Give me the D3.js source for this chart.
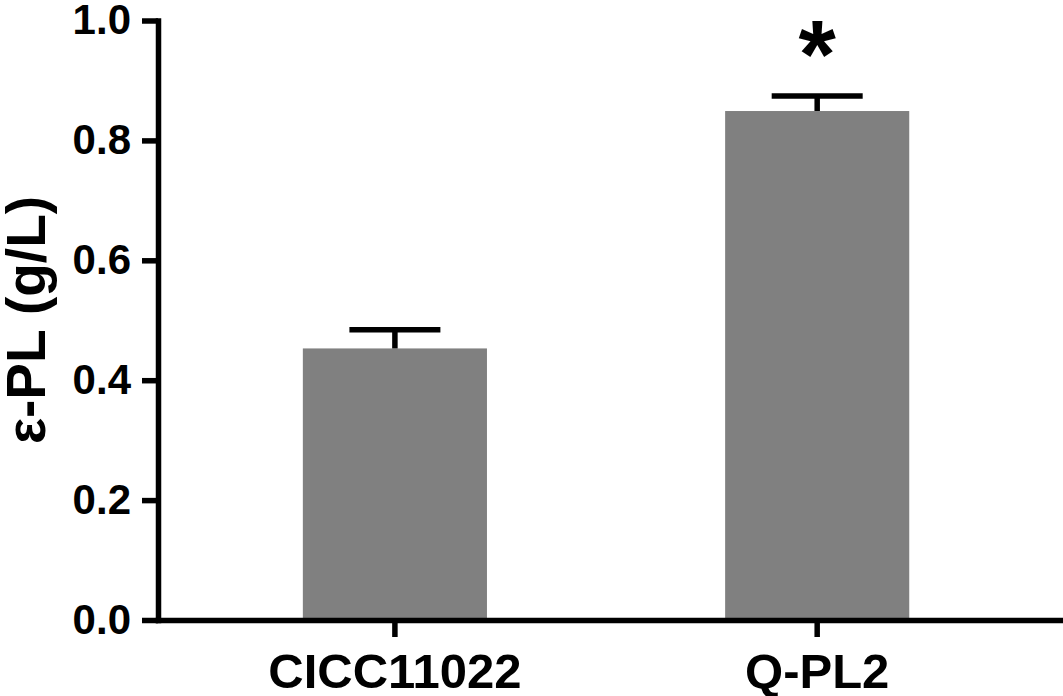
<!DOCTYPE html>
<html>
<head>
<meta charset="utf-8">
<script src="https://cdn.jsdelivr.net/npm/d3@7"></script>
<style>
  html, body { margin: 0; padding: 0; background: #fff; }
  svg { display: block; font-family: "Liberation Sans", Arial, sans-serif; }
</style>
</head>
<body>
<svg id="chart" width="1063" height="696"></svg>
<script>
// dati
const strains = ["CICC11022", "Q-PL2"];
const meanValues = [0.453, 0.849];
const sdValues = [0.031, 0.025];
const sigMarks = ["", "*"];
const yTicks = [0.0, 0.2, 0.4, 0.6, 0.8, 1.0];

const svg = d3.select("#chart");
const axisW = 5.5;

const x = d3.scaleBand()
  .domain(strains)
  .range([158, 1060])
  .paddingInner(0.564)
  .paddingOuter(0.35)
  .align(0.49);

const y = d3.scaleLinear()
  .domain([0, 1])
  .range([620, 20.5]);

const rows = strains.map((s, i) => ({ name: s, mean: meanValues[i], sd: sdValues[i], mark: sigMarks[i] }));

//barre
svg.selectAll("rect.bar")
  .data(rows)
  .enter().append("rect")
  .attr("class", "bar")
  .attr("x", d => x(d.name))
  .attr("width", x.bandwidth())
  .attr("y", d => y(d.mean))
  .attr("height", d => y(0) - y(d.mean))
  .attr("fill", "#808080");

//barre di errore (solo metà superiore)
const err = svg.selectAll("g.err")
  .data(rows)
  .enter().append("g")
  .attr("class", "err")
  .attr("transform", d => `translate(${x(d.name) + x.bandwidth() / 2},0)`);

err.append("line")
  .attr("x1", 0).attr("x2", 0)
  .attr("y1", d => y(d.mean))
  .attr("y2", d => y(d.mean + d.sd))
  .attr("stroke", "#000")
  .attr("stroke-width", axisW);

err.append("line")
  .attr("x1", -45.5).attr("x2", 45.5)
  .attr("y1", d => y(d.mean + d.sd))
  .attr("y2", d => y(d.mean + d.sd))
  .attr("stroke", "#000")
  .attr("stroke-width", axisW);

//asterisco di significatività
err.filter(d => d.mark)
  .append("text")
  .attr("text-anchor", "middle")
  .attr("y", d => y(d.mean + d.sd) - 9)
  .attr("font-size", "96px")
  .attr("font-weight", "bold")
  .text(d => d.mark);

//asse y
const yAxis = svg.append("g")
  .attr("transform", `translate(${x.range()[0]},0)`)
  .call(d3.axisLeft(y).tickValues(yTicks).tickFormat(d3.format(".1f")).tickSize(16).tickPadding(11).tickSizeOuter(0));

//asse x
const xAxis = svg.append("g")
  .attr("transform", `translate(0,${y(0)})`)
  .call(d3.axisBottom(x).tickSize(17).tickPadding(16).tickSizeOuter(0));

[yAxis, xAxis].forEach(g => {
  g.select(".domain").attr("stroke", "#000").attr("stroke-width", axisW).attr("stroke-linecap", "square");
  g.selectAll(".tick line").attr("stroke", "#000").attr("stroke-width", axisW);
  g.selectAll(".tick text").attr("fill", "#000").attr("font-weight", "bold")
    .attr("font-family", "'Liberation Sans', Arial, sans-serif");
});
yAxis.selectAll(".tick text").attr("font-size", "42px");
xAxis.selectAll(".tick text").attr("font-size", "49px");

//titolo asse y
svg.append("text")
  .attr("transform", "translate(45,320) rotate(-90)")
  .attr("text-anchor", "middle")
  .attr("font-size", "55px")
  .attr("font-weight", "bold")
  .text("ε-PL (g/L)");
</script>
</body>
</html>
